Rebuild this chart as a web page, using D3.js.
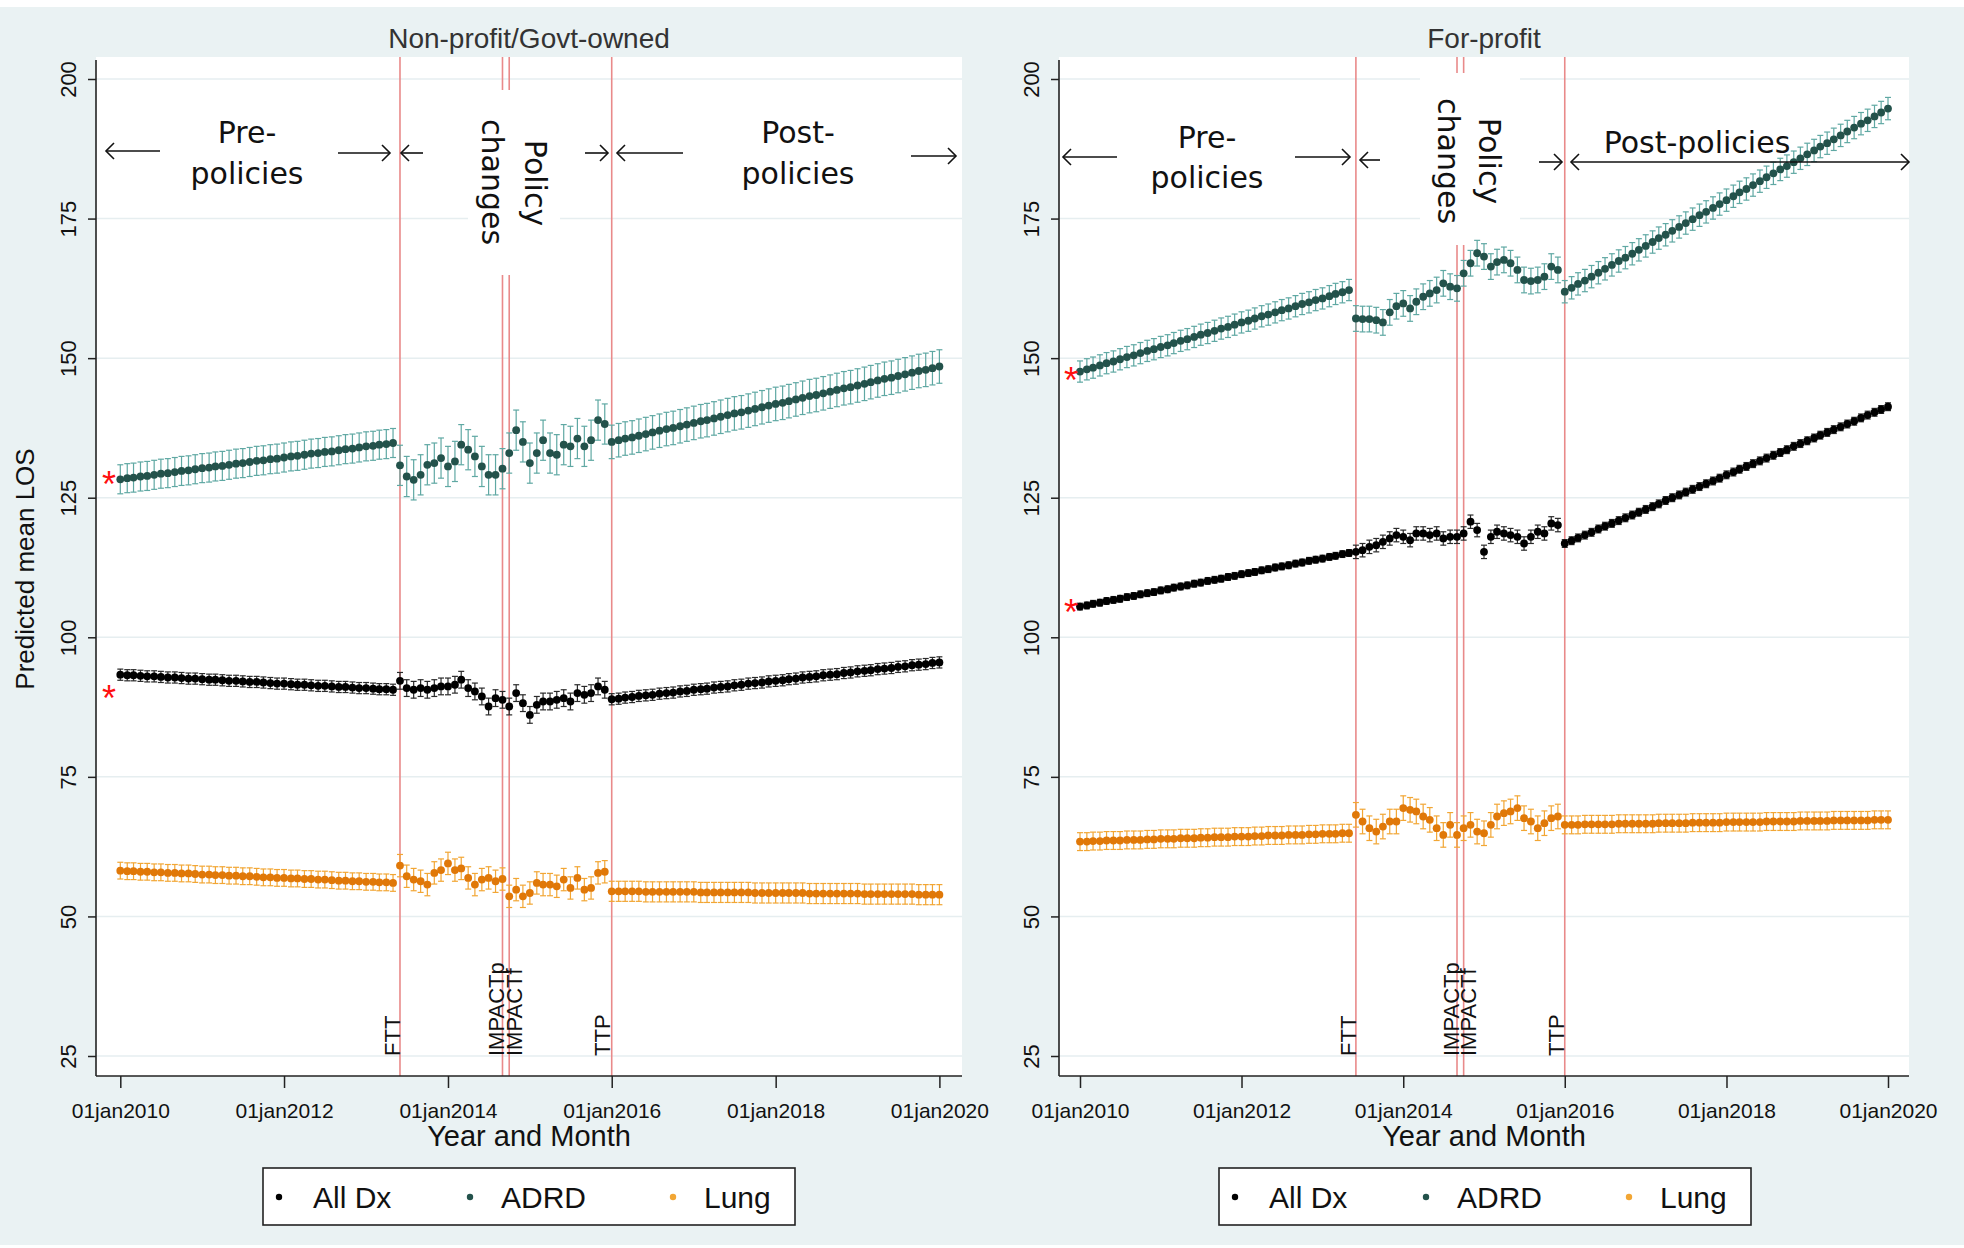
<!DOCTYPE html>
<html><head><meta charset="utf-8">
<script src="https://cdn.jsdelivr.net/npm/d3@7"></script>
<style>
body{margin:0;background:#fff}
svg{display:block}
text{font-family:"Liberation Sans",Arial,sans-serif;fill:#111}
</style>
</head><body>
<svg id="c" width="1964" height="1248"></svg>
<script>
// ---------------- DATA ----------------
const firstMonth = "2010-01-01";
const lastMonth = "2020-01-01";
const panelTitles = ["Non-profit/Govt-owned", "For-profit"];
const seriesNames = ["All Dx", "ADRD", "Lung"];
const xTickDates = ["2010-01-01","2012-01-01","2014-01-01","2016-01-01","2018-01-01","2020-01-01"];
const xTickLabels = ["01jan2010","01jan2012","01jan2014","01jan2016","01jan2018","01jan2020"];
const yTicks = [25, 50, 75, 100, 125, 150, 175, 200];
const eventNames = ["FTT", "IMPACTp", "IMPACTf", "TTP"];
const eventDates = ["2013-06-01", "2014-09-01", "2014-10-01", "2016-01-01"];

// Non-profit / Govt-owned, monthly predicted mean LOS (Jan 2010 - Jan 2020)
const npAll = [
 93.3,93.2,93.2,93.1,93.0,93.0,92.9,92.8,92.8,92.7, 92.6,92.6,92.5,92.4,92.4,92.3,92.2,92.2,92.1,92.0,
 92.0,91.9,91.8,91.7,91.7,91.6,91.5,91.5,91.4,91.3, 91.3,91.2,91.1,91.1,91.0,90.9,90.9,90.8,90.7,90.7, 90.6,
 92.2,90.9,90.6,90.9,90.6,90.9,91.2,91.2,91.5,92.4, 90.9,90.3,89.4,87.6,89.1,88.8,87.6,90.0,88.2,86.1,
 87.9,88.5,88.5,88.8,89.1,88.5,90.0,89.7,90.0,91.2, 90.6,
 88.9,89.0,89.2,89.3,89.5,89.6,89.7,89.9,90.0,90.1, 90.3,90.4,90.6,90.7,90.8,91.0,91.1,91.2,91.4,91.5,
 91.7,91.8,91.9,92.1,92.2,92.3,92.5,92.6,92.8,92.9, 93.0,93.2,93.3,93.4,93.6,93.7,93.9,94.0,94.1,94.3,
 94.4,94.5,94.7,94.8,95.0,95.1,95.2,95.4,95.5];
const npAdrd = [
 128.3,128.5,128.6,128.8,128.9,129.1,129.3,129.4,129.6,129.8, 129.9,130.1,130.3,130.4,130.6,130.7,130.9,131.1,131.2,131.4,
 131.6,131.7,131.9,132.0,132.2,132.4,132.5,132.7,132.9,133.0, 133.2,133.3,133.5,133.7,133.8,134.0,134.2,134.3,134.5,134.6, 134.8,
 130.8,128.8,128.2,129.1,130.9,131.2,132.1,130.6,131.5,134.5, 133.6,132.4,130.6,129.1,129.1,130.2,133.0,137.1,135.0,131.2,
 133.0,135.3,133.0,132.7,134.5,134.2,135.6,134.2,135.3,138.9, 138.2,
 135.0,135.3,135.6,135.8,136.1,136.4,136.7,137.0,137.3,137.5, 137.8,138.1,138.4,138.7,138.9,139.2,139.5,139.8,140.1,140.3,
 140.6,140.9,141.2,141.5,141.8,142.0,142.3,142.6,142.9,143.2, 143.4,143.7,144.0,144.3,144.6,144.8,145.1,145.4,145.7,146.0,
 146.3,146.5,146.8,147.1,147.4,147.7,147.9,148.2,148.5];
const npLung = [
 58.2,58.1,58.1,58.0,58.0,57.9,57.9,57.8,57.8,57.7, 57.7,57.6,57.5,57.5,57.4,57.4,57.3,57.3,57.2,57.2,
 57.1,57.0,57.0,56.9,56.9,56.8,56.8,56.7,56.7,56.6, 56.6,56.5,56.4,56.4,56.3,56.3,56.2,56.2,56.1,56.1, 56.0,
 59.1,57.2,56.6,56.3,55.7,57.8,58.3,59.5,58.3,58.6, 56.9,55.7,56.6,56.9,56.3,56.7,53.6,54.8,53.6,54.2,
 56.0,55.7,55.7,55.4,56.6,55.1,56.9,54.8,55.1,57.8, 58.0,
 54.5,54.5,54.5,54.5,54.5,54.4,54.4,54.4,54.4,54.4, 54.4,54.4,54.4,54.3,54.3,54.3,54.3,54.3,54.3,54.3,
 54.3,54.2,54.2,54.2,54.2,54.2,54.2,54.2,54.2,54.1, 54.1,54.1,54.1,54.1,54.1,54.1,54.1,54.0,54.0,54.0,
 54.0,54.0,54.0,54.0,54.0,53.9,53.9,53.9,53.9];

// For-profit
const fpAll = [
 105.5,105.7,106.0,106.2,106.5,106.7,106.9,107.2,107.4,107.7, 107.9,108.1,108.4,108.6,108.9,109.1,109.3,109.6,109.8,110.1,
 110.3,110.5,110.8,111.0,111.3,111.5,111.7,112.0,112.2,112.5, 112.7,112.9,113.2,113.4,113.7,113.9,114.1,114.4,114.6,114.9, 115.1,
 115.3,115.6,116.2,116.5,117.1,117.7,118.3,118.0,117.4,118.6, 118.6,118.3,118.6,117.7,118.0,118.0,118.6,120.7,119.2,115.3,
 118.0,118.9,118.6,118.3,118.0,116.8,118.0,118.9,118.6,120.4, 120.1,
 116.8,117.3,117.8,118.3,118.8,119.4,119.9,120.4,120.9,121.4, 121.9,122.4,122.9,123.4,123.9,124.5,125.0,125.5,126.0,126.5,
 127.0,127.5,128.0,128.5,129.1,129.6,130.1,130.6,131.1,131.6, 132.1,132.6,133.1,133.6,134.2,134.7,135.2,135.7,136.2,136.7,
 137.2,137.7,138.2,138.7,139.3,139.8,140.3,140.8,141.3];
const fpAdrd = [
 147.6,148.0,148.3,148.7,149.1,149.4,149.8,150.2,150.5,150.9, 151.3,151.6,152.0,152.3,152.7,153.1,153.4,153.8,154.2,154.5,
 154.9,155.3,155.6,156.0,156.4,156.7,157.1,157.5,157.8,158.2, 158.6,158.9,159.3,159.7,160.0,160.4,160.7,161.1,161.5,161.8, 162.2,
 157.1,157.0,157.0,156.8,156.4,158.2,159.3,159.8,158.9,160.1, 161.0,161.6,162.2,163.4,162.8,162.5,165.2,167.0,168.8,168.2,
 166.4,167.2,167.6,167.0,165.8,164.0,163.8,164.0,164.6,166.4, 165.8,
 161.9,162.6,163.3,163.9,164.6,165.3,166.0,166.7,167.4,168.0, 168.7,169.4,170.1,170.8,171.5,172.1,172.8,173.5,174.2,174.9,
 175.6,176.2,176.9,177.6,178.3,179.0,179.7,180.3,181.0,181.7, 182.4,183.1,183.8,184.4,185.1,185.8,186.5,187.2,187.9,188.5,
 189.2,189.9,190.6,191.3,192.0,192.6,193.3,194.0,194.7];
const fpLung = [
 63.4,63.4,63.5,63.5,63.6,63.6,63.6,63.7,63.7,63.7, 63.8,63.8,63.9,63.9,63.9,64.0,64.0,64.0,64.1,64.1,
 64.2,64.2,64.2,64.3,64.3,64.3,64.4,64.4,64.5,64.5, 64.5,64.6,64.6,64.6,64.7,64.7,64.8,64.8,64.8,64.9, 64.9,
 68.2,67.0,65.8,65.2,66.1,67.0,67.0,69.4,69.1,68.8, 67.9,67.3,65.8,64.6,66.4,64.6,65.8,66.4,65.2,64.9,
 66.4,67.9,68.5,68.8,69.4,67.6,67.0,65.8,66.7,67.6, 67.9,
 66.4,66.4,66.4,66.5,66.5,66.5,66.5,66.5,66.6,66.6, 66.6,66.6,66.6,66.6,66.7,66.7,66.7,66.7,66.7,66.8,
 66.8,66.8,66.8,66.8,66.9,66.9,66.9,66.9,66.9,66.9, 67.0,67.0,67.0,67.0,67.0,67.1,67.1,67.1,67.1,67.1,
 67.2,67.2,67.2,67.2,67.2,67.2,67.3,67.3,67.3];

// 95% CI half-widths: [pre-policies, policy changes, post-policies]
const npAllCI = [1.0, 1.5, 1.0];
const npAdrdCI = [2.6, 3.6, 3.0];
const npLungCI = [1.5, 2.0, 1.8];
const fpAllCI = [0.6, 1.2, 0.7];
const fpAdrdCI = [1.9, 2.3, 2.0];
const fpLungCI = [1.6, 2.2, 1.6];

// red significance asterisks at the start (ADRD, All Dx)
const npStars = [128.3, 90.0];
const fpStars = [147.0, 105.5];

// ---------------- DRAWING ----------------
const parse = d3.timeParse("%Y-%m-%d");
const months = d3.timeMonth.range(parse(firstMonth), d3.timeMonth.offset(parse(lastMonth), 1));
const evDates = eventDates.map(parse);
const ftt = evDates[0], ttp = evDates[3];
const segOf = d => d < ftt ? 0 : (d < ttp ? 1 : 2);

const svg = d3.select("#c");
svg.append("rect").attr("x",0).attr("y",7).attr("width",1964).attr("height",1238).attr("fill","#eaf2f3");

const colors = {
  all:  {bar:"#2a2a2a", dot:"#000000"},
  adrd: {bar:"#5fa8a3", dot:"#23524b"},
  lung: {bar:"#f2a634", dot:"#e07808"}
};

const y = d3.scaleLinear().domain([25, 200]).range([1056, 79]);
const plotTop = 57, plotBottom = 1076;

const panels = [
  {title: panelTitles[0], ax0: 96, ax1: 962, r: [120.3, 939.4],
   all: npAll, adrd: npAdrd, lung: npLung, allCI: npAllCI, adrdCI: npAdrdCI, lungCI: npLungCI,
   stars: npStars, starX: 109, legX: 263, legW: 532, showYTitle: true,
   labelOff: [-7, -6, 5, -9],
   box: [468, 90, 92, 185], policy: [[535, 183, "Policy"], [492, 182, "changes"]],
   txt: [[247, 132, "Pre-"], [247, 173, "policies"], [798, 132, "Post-"], [798, 173, "policies"]],
   arrows: [[106,160,151,1,0],[338,390,153,0,1],[401,423,153,1,0],[585,608,153,0,1],[617,683,153,1,0],[911,956,156,0,1]]},
  {title: panelTitles[1], ax0: 1059, ax1: 1909, r: [1080, 1888],
   all: fpAll, adrd: fpAdrd, lung: fpLung, allCI: fpAllCI, adrdCI: fpAdrdCI, lungCI: fpLungCI,
   stars: fpStars, starX: 1071, legX: 1219, legW: 532, showYTitle: false,
   labelOff: [-7, -6, 5, -8],
   box: [1420, 73, 100, 172], policy: [[1489, 161, "Policy"], [1448, 161, "changes"]],
   txt: [[1207, 137, "Pre-"], [1207, 177, "policies"], [1697, 142, "Post-policies"]],
   arrows: [[1063,1117,157,1,0],[1295,1350,157,0,1],[1360,1380,160,1,0],[1539,1562,162,0,1],[1571,1909,162,1,1]]}
];

function arrow(g, x1, x2, yy, hl, hr) {
  const s = 8;
  g.append("line").attr("x1",x1).attr("x2",x2).attr("y1",yy).attr("y2",yy).attr("stroke","#111").attr("stroke-width",1.6);
  if (hl) g.append("path").attr("d",`M${x1+s},${yy-s}L${x1},${yy}L${x1+s},${yy+s}`).attr("fill","none").attr("stroke","#111").attr("stroke-width",1.6);
  if (hr) g.append("path").attr("d",`M${x2-s},${yy-s}L${x2},${yy}L${x2-s},${yy+s}`).attr("fill","none").attr("stroke","#111").attr("stroke-width",1.6);
}

panels.forEach((p, pi) => {
  const g = svg.append("g");
  const x = d3.scaleTime().domain([parse(firstMonth), parse(lastMonth)]).range(p.r);

  // plot region
  g.append("rect").attr("x",p.ax0).attr("y",plotTop).attr("width",p.ax1-p.ax0).attr("height",plotBottom-plotTop).attr("fill","#fff");
  // gridlines
  g.selectAll("line.grid").data(yTicks).join("line").attr("class","grid")
    .attr("x1",p.ax0).attr("x2",p.ax1).attr("y1",d=>y(d)).attr("y2",d=>y(d))
    .attr("stroke","#e6eef0").attr("stroke-width",1.5);

  // event lines
  g.selectAll("line.ev").data(evDates).join("line").attr("class","ev")
    .attr("x1",d=>x(d)).attr("x2",d=>x(d)).attr("y1",plotTop).attr("y2",plotBottom)
    .attr("stroke","#e98a8a").attr("stroke-width",1.6);

  // white box behind "Policy changes"
  g.append("rect").attr("x",p.box[0]).attr("y",p.box[1]).attr("width",p.box[2]).attr("height",p.box[3]).attr("fill","#fff");

  // series
  [["all", p.all, p.allCI], ["adrd", p.adrd, p.adrdCI], ["lung", p.lung, p.lungCI]].forEach(([key, vals, ci]) => {
    const data = vals.map((v, i) => ({d: months[i], v, h: ci[segOf(months[i])]}));
    const sg = g.append("g");
    const c = colors[key];
    sg.selectAll("line.b").data(data).join("line").attr("class","b")
      .attr("x1",d=>x(d.d)).attr("x2",d=>x(d.d)).attr("y1",d=>y(d.v-d.h)).attr("y2",d=>y(d.v+d.h))
      .attr("stroke",c.bar).attr("stroke-width",1.2);
    sg.selectAll("line.ct").data(data).join("line").attr("class","ct")
      .attr("x1",d=>x(d.d)-3).attr("x2",d=>x(d.d)+3).attr("y1",d=>y(d.v+d.h)).attr("y2",d=>y(d.v+d.h))
      .attr("stroke",c.bar).attr("stroke-width",1.2);
    sg.selectAll("line.cb").data(data).join("line").attr("class","cb")
      .attr("x1",d=>x(d.d)-3).attr("x2",d=>x(d.d)+3).attr("y1",d=>y(d.v-d.h)).attr("y2",d=>y(d.v-d.h))
      .attr("stroke",c.bar).attr("stroke-width",1.2);
    sg.selectAll("circle").data(data).join("circle")
      .attr("cx",d=>x(d.d)).attr("cy",d=>y(d.v)).attr("r",3.9).attr("fill",c.dot);
  });

  // event labels
  g.selectAll("text.evl").data(eventNames).join("text").attr("class","evl")
    .attr("transform",(d,i)=>`translate(${x(evDates[i]) + p.labelOff[i]},${y(25)}) rotate(-90)`)
    .attr("text-anchor","start").attr("dominant-baseline","central")
    .style("font-size","22px").text(d=>d);

  // asterisks
  g.selectAll("text.star").data(p.stars).join("text").attr("class","star")
    .attr("x",p.starX).attr("y",d=>y(d)).attr("dy","0.5em").attr("text-anchor","middle")
    .style("font-size","36px").style("fill","#ff1010").text("*");

  // axes
  const ya = g.append("g").attr("transform",`translate(${p.ax0},0)`)
    .call(d3.axisLeft(y).tickValues(yTicks).tickSize(8).tickFormat(d3.format("d")));
  ya.select(".domain").remove();
  ya.selectAll(".tick line").attr("stroke","#222").attr("stroke-width",1.5);
  ya.selectAll(".tick text").attr("transform","rotate(-90)").attr("x",0).attr("y",-20).attr("dy",null)
    .attr("text-anchor","middle").style("font-size","22px").style("font-family","Liberation Sans, Arial, sans-serif").attr("fill","#111");
  g.append("line").attr("x1",p.ax0).attr("x2",p.ax0).attr("y1",plotTop+3).attr("y2",plotBottom).attr("stroke","#222").attr("stroke-width",1.6);

  const xa = g.append("g").attr("transform",`translate(0,${plotBottom})`)
    .call(d3.axisBottom(x).tickValues(xTickDates.map(parse)).tickSize(12).tickFormat((d,i)=>xTickLabels[i]));
  xa.select(".domain").remove();
  xa.selectAll(".tick line").attr("stroke","#222").attr("stroke-width",1.5);
  xa.selectAll(".tick text").attr("y",34).attr("dy",null).attr("dominant-baseline","central")
    .style("font-size","21px").style("font-family","Liberation Sans, Arial, sans-serif").attr("fill","#111");
  g.append("line").attr("x1",p.ax0).attr("x2",p.ax1).attr("y1",plotBottom).attr("y2",plotBottom).attr("stroke","#222").attr("stroke-width",1.6);

  // titles
  const cx = (p.ax0 + p.ax1) / 2;
  g.append("text").attr("x",cx).attr("y",38).attr("text-anchor","middle").attr("dominant-baseline","central")
    .style("font-size","28px").style("fill","#333").text(p.title);
  g.append("text").attr("x",cx).attr("y",1136).attr("text-anchor","middle").attr("dominant-baseline","central")
    .style("font-size","29px").text("Year and Month");
  if (p.showYTitle) {
    g.append("text").attr("transform","translate(25,569) rotate(-90)").attr("text-anchor","middle").attr("dominant-baseline","central")
      .style("font-size","26px").text("Predicted mean LOS");
  }

  // annotations
  const af = "DejaVu Sans, Verdana, sans-serif";
  p.txt.forEach(t => g.append("text").attr("x",t[0]).attr("y",t[1]).attr("text-anchor","middle").attr("dominant-baseline","central")
    .style("font-family",af).style("font-size","30px").text(t[2]));
  p.policy.forEach(t => g.append("text").attr("transform",`translate(${t[0]},${t[1]}) rotate(90)`)
    .attr("text-anchor","middle").attr("dominant-baseline","central")
    .style("font-family",af).style("font-size","30px").text(t[2]));
  p.arrows.forEach(a => arrow(g, a[0], a[1], a[2], a[3], a[4]));

  // legend
  const lg = g.append("g").attr("transform",`translate(${p.legX},1168)`);
  lg.append("rect").attr("width",p.legW).attr("height",57).attr("fill","#fff").attr("stroke","#222").attr("stroke-width",1.6);
  const legOff = [[16, 50], [207, 238], [410, 441]];
  const legCol = [colors.all.dot, colors.adrd.dot, colors.lung.bar];
  seriesNames.forEach((s, i) => {
    lg.append("circle").attr("cx",legOff[i][0]).attr("cy",29).attr("r",3.2).attr("fill",legCol[i]);
    lg.append("text").attr("x",legOff[i][1]).attr("y",29).attr("dominant-baseline","central").style("font-size","30px").text(s);
  });
});
</script>
</body></html>
